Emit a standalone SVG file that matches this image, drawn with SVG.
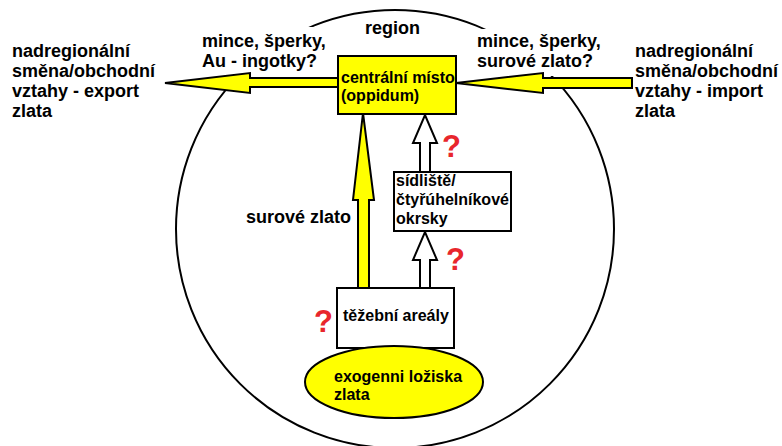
<svg xmlns="http://www.w3.org/2000/svg" width="782" height="446" viewBox="0 0 782 446">
<style>
text{font-family:"Liberation Sans",Arial,sans-serif;font-weight:bold;fill:#000}
.big{font-size:18px}
.sm{font-size:16px}
.q{font-size:31px;fill:#e8262c}
.ya{fill:#ffff00;stroke:#000;stroke-width:2;stroke-linejoin:miter}
.wa{fill:#fff;stroke:#000;stroke-width:2}
.box{stroke:#000;stroke-width:2}
</style>
<rect width="782" height="446" fill="#fff"/>
<g id="region">
<circle cx="395" cy="229" r="219" fill="none" stroke="#000" stroke-width="2"/>
<text class="big" x="365" y="34">region</text>
</g>
<g id="label-left">
<rect x="198" y="27" width="134" height="47" fill="#fff"/>
<text class="big" x="202" y="47">mince, šperky,</text>
<text class="big" x="202" y="67">Au - ingotky?</text>
</g>
<g id="label-right">
<rect x="473" y="29" width="136" height="47" fill="#fff"/>
<text class="big" x="477" y="47">mince, šperky,</text>
<text class="big" x="477" y="67">surové zlato?</text>
</g>
<g id="connectors">
<polygon class="ya" points="338,78 250,78 250,73 165,83 250,93 250,87 338,87"/>
<polygon class="ya" points="632,78 543,78 543,73 456,83 543,93 543,88 632,88"/>
<polygon class="ya" points="358,288 358,200 353,200 363,113 374,200 369,200 369,288"/>
<polygon class="wa" points="420,172 420,143 413,143 425,115 437,143 430,143 430,172"/>
<polygon class="wa" points="420,288 420,260 413,260 425,232 437,260 430,260 430,288"/>
</g>
<g id="central">
<rect class="box" x="338" y="56" width="118" height="58" fill="#ffff00"/>
<text class="sm" x="341" y="83">centrální místo</text>
<text class="sm" x="341" y="101">(oppidum)</text>
</g>
<g id="sidliste">
<rect class="box" x="394" y="172" width="117" height="59" fill="#fff"/>
<text class="sm" x="396" y="186">sídliště/</text>
<text class="sm" x="396" y="205">čtyřúhelníkové</text>
<text class="sm" x="396" y="224">okrsky</text>
</g>
<g id="tezebni">
<rect class="box" x="337" y="288" width="117" height="60" fill="#fff"/>
<text class="sm" x="343" y="321">těžební areály</text>
</g>
<g id="loziska">
<ellipse class="box" cx="394" cy="382" rx="89" ry="36" fill="#ffff00"/>
<text class="sm" x="334" y="382">exogenni ložiska</text>
<text class="sm" x="334" y="400">zlata</text>
</g>
<g id="export">
<text class="big" x="12" y="57">nadregionální</text>
<text class="big" x="12" y="77">směna/obchodní</text>
<text class="big" x="12" y="97">vztahy - export</text>
<text class="big" x="12" y="117">zlata</text>
</g>
<g id="import">
<text class="big" x="635" y="57">nadregionální</text>
<text class="big" x="635" y="77">směna/obchodní</text>
<text class="big" x="635" y="97">vztahy - import</text>
<text class="big" x="635" y="117">zlata</text>
</g>
<text class="big" x="246" y="223">surové zlato</text>
<text class="q" x="442" y="157">?</text>
<text class="q" x="446" y="270">?</text>
<text class="q" x="314" y="332">?</text>
</svg>
